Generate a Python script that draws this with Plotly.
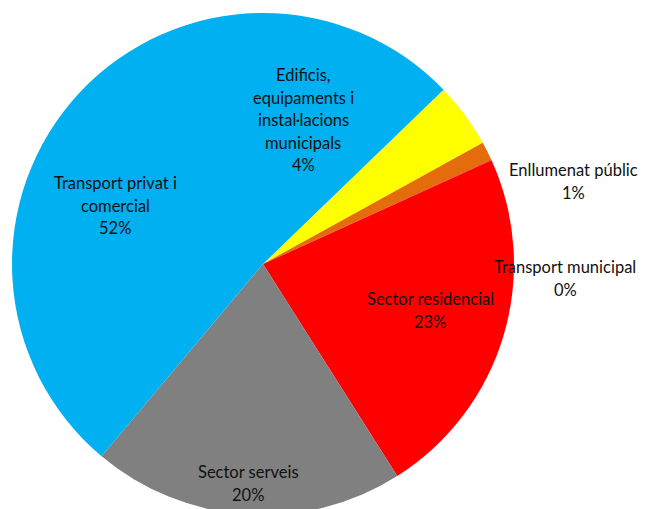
import plotly.graph_objects as go

# Data
categories = [
    "Edificis, equipaments i instal·lacions municipals",
    "Enllumenat públic",
    "Transport municipal",
    "Sector residencial",
    "Sector serveis",
    "Transport privat i comercial",
]
values = [4.2, 1.2, 0.04, 22.8, 20.1, 51.66]
label_lines = [
    ["Edificis,", "equipaments i", "instal·lacions", "municipals"],
    ["Enllumenat públic"],
    ["Transport municipal"],
    ["Sector residencial"],
    ["Sector serveis"],
    ["Transport privat i", "comercial"],
]
colors = ["#FFFF00", "#E46C0A", "#F00000", "#FF0000", "#808080", "#00B0F0"]

W, H = 646, 515
# label block anchor (center x, first line y) in pixels
label_pos = [(303, 75), (573, 170), (565, 267), (430, 299), (248, 472), (115, 183)]
line_h = 22.5

total = sum(values)
pcts = [round(v / total * 100) for v in values]

fig = go.Figure(go.Pie(
    labels=categories,
    values=values,
    sort=False,
    direction="clockwise",
    rotation=46,
    marker=dict(colors=colors, line=dict(width=0)),
    textinfo="none",
    hoverinfo="label+percent",
    domain=dict(x=[12 / W, 514 / W], y=[1 - 515 / H, 1 - 13 / H]),
    showlegend=False,
))

annotations = []
for lines, pct, (cx, y0) in zip(label_lines, pcts, label_pos):
    for i, t in enumerate(lines + [f"{pct}%"]):
        annotations.append(dict(
            text=t, x=cx / W, y=1 - (y0 + i * line_h) / H,
            xref="paper", yref="paper", showarrow=False,
            xanchor="center", yanchor="middle",
            font=dict(family="Lato", size=16.5, color="#111111"),
        ))

fig.update_layout(
    width=W, height=H,
    margin=dict(l=0, r=0, t=0, b=0),
    paper_bgcolor="white",
    plot_bgcolor="white",
    annotations=annotations,
)

fig.write_html(
    "out.html",
    config={"displayModeBar": False},
    post_script="document.documentElement.style.overflow='hidden';document.body.style.overflow='hidden';document.body.style.margin='0';",
)
